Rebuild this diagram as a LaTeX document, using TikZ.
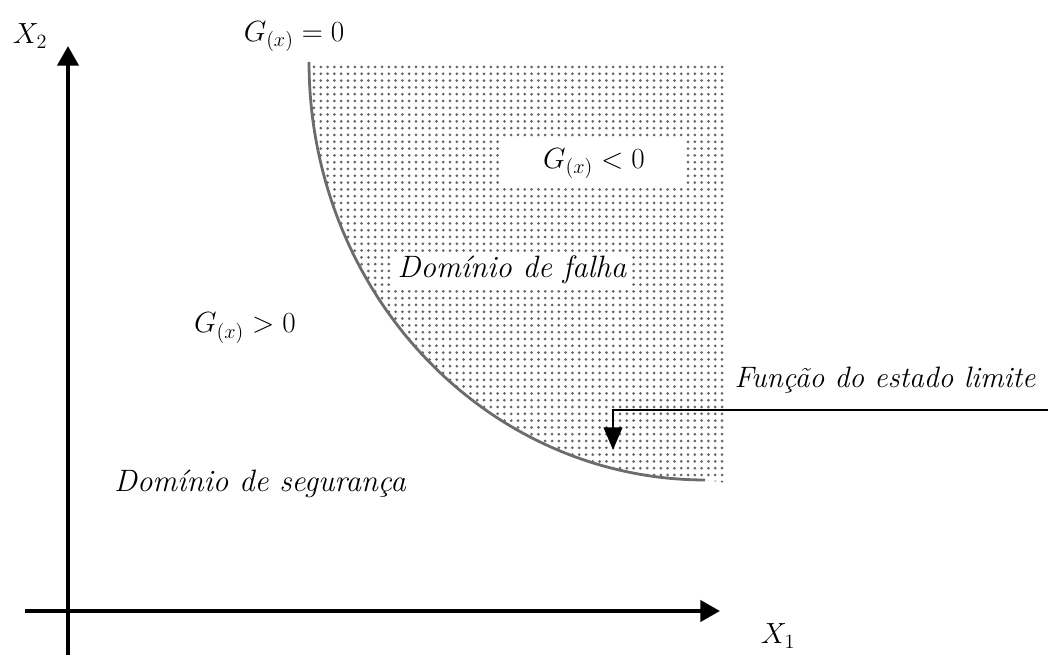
\documentclass[tikz,border=0pt]{standalone}
\usetikzlibrary{arrows.meta}
\tikzset{
  axis/.style={line width=2.8pt,-{Triangle[length=14pt,width=15pt]}},
  lsf/.style={draw=gray!85!black,line width=2pt},
  dotfill/.style={fill=gray!80!black},
  mlabel/.style={font=\fontsize{21}{25}\selectfont,inner sep=0pt},
  tlabel/.style={font=\fontsize{22}{26}\selectfont\itshape,inner sep=0pt},
  pointer/.style={line width=2pt,-{Triangle[length=16pt,width=13pt]}}
}
\begin{document}
\begin{tikzpicture}[x=0.025cm,y=-0.025cm]
\useasboundingbox (0,0) rectangle (1048,655);
% dotted failure domain
\begin{scope}
\clip plot[domain=180:90,samples=60] ({705+396*cos(\x)},{62+418*sin(\x)}) -- (727,483) -- (727,63) -- cycle;
\foreach \j in {0,...,62} {
  \fill[dotfill] foreach \i in {0,...,61} {({314+\i*6.8},{67+\j*6.8}) circle (1.5)};
}
\end{scope}
% white boxes behind labels
\fill[white] (500,140) rectangle (683,188);
\fill[white] (394,252) rectangle (632,290);
% limit state curve
\draw[lsf] plot[domain=180:90,samples=80] ({705+396*cos(\x)},{62+418*sin(\x)});
% axes
\coordinate (xs) at (25,611);
\coordinate (xe) at (720,611);
\coordinate (ys) at (68,655);
\coordinate (ye) at (68,46);
\draw[axis] (xs) -- (xe);
\draw[axis] (ys) -- (ye);
% labels
\node[mlabel] (x2) at (30,36) {$X_2$};
\node[mlabel] (x1) at (778,636) {$X_1$};
\node[mlabel] (g0) at (294,37) {$G_{(x)}=0$};
\node[mlabel] (gneg) at (594,164) {$G_{(x)}<0$};
\node[mlabel] (gpos) at (245,328) {$G_{(x)}>0$};
\node[tlabel] (fail) at (512,270) {Domínio de falha};
\node[tlabel] (safe) at (260,484) {Domínio de segurança};
\node[tlabel,font=\fontsize{21}{25}\selectfont\itshape] (lsflab) at (885,380) {Função do estado limite};
% pointer
\coordinate (p0) at (1048,410);
\coordinate (p1) at (613,410);
\coordinate (p2) at (613,450);
\draw[pointer] (p0) -- (p1) -- (p2);
\end{tikzpicture}
\end{document}
